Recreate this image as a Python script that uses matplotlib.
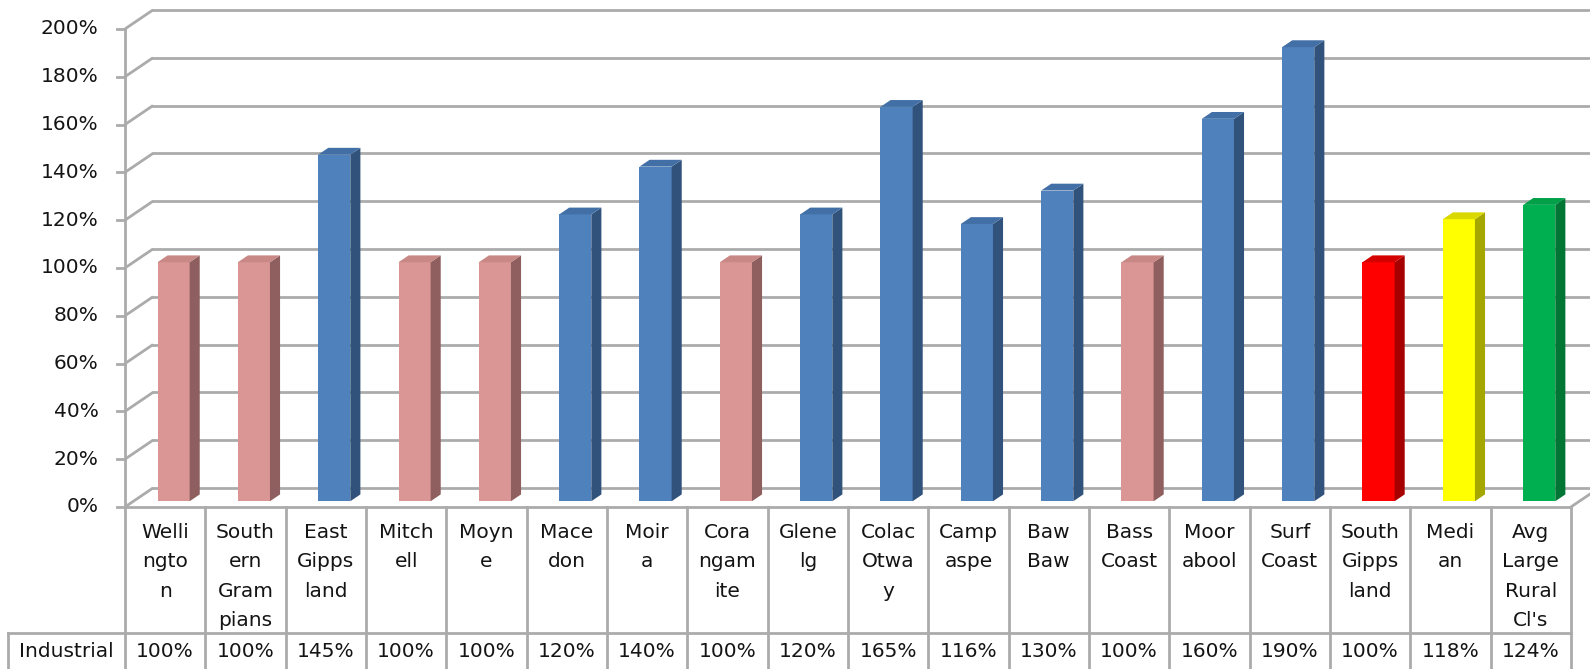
import matplotlib
matplotlib.use("Agg")
import matplotlib.pyplot as plt
from matplotlib.patches import Polygon

# data
councils = ["Welli\nngto\nn", "South\nern\nGram\npians", "East\nGipps\nland", "Mitch\nell",
            "Moyn\ne", "Mace\ndon", "Moir\na", "Cora\nngam\nite", "Glene\nlg",
            "Colac\nOtwa\ny", "Camp\naspe", "Baw\nBaw", "Bass\nCoast", "Moor\nabool",
            "Surf\nCoast", "South\nGipps\nland", "Medi\nan", "Avg\nLarge\nRural\nCl's"]
industrial = [1.00, 1.00, 1.45, 1.00, 1.00, 1.20, 1.40, 1.00, 1.20,
              1.65, 1.16, 1.30, 1.00, 1.60, 1.90, 1.00, 1.18, 1.24]
bar_kind = ["pink", "pink", "blue", "pink", "pink", "blue", "blue", "pink", "blue",
            "blue", "blue", "blue", "pink", "blue", "blue", "red", "yellow", "green"]
row_name = "Industrial"
yticks = [0, 0.2, 0.4, 0.6, 0.8, 1.0, 1.2, 1.4, 1.6, 1.8, 2.0]

# (front, side, top) colours
palette = {
    "pink": ("#D99694", "#8E5F5E", "#C88886"),
    "blue": ("#4F81BD", "#31527B", "#4270A6"),
    "red": ("#FF0000", "#A60000", "#D40000"),
    "yellow": ("#FFFF00", "#A6A600", "#D9D900"),
    "green": ("#00B050", "#007534", "#00A049"),
}

grid_col = "#ABABAB"
text_col = "#141414"
fs = 14.5

# 3d-ish depth of the plot box, in data units
DX, DY = 0.349, 0.0795
bar_w = 0.40
bar_d0, bar_d1 = 0.30, 0.66   # bar front / back as fraction of depth

n = len(councils)
fig = plt.figure(figsize=(15.9, 6.69), dpi=100)
ax = fig.add_axes([0, 0, 1, 1])
ax.set_xlim(-2.056, 17.737)
ax.set_ylim(-0.678, 2.121)
ax.axis("off")

left = -0.5
right = n - 0.5

# gridlines: side wall diagonal + back wall + tick marks
for v in yticks:
    ax.plot([left, left + DX], [v, v + DY], color=grid_col, lw=2, zorder=1,
            solid_capstyle="butt")
    ax.plot([left + DX, 20], [v + DY, v + DY], color=grid_col, lw=2, zorder=1)
    ax.plot([left - 0.1, left], [v, v], color=grid_col, lw=2, zorder=1)
    ax.text(left - 0.33, v, f"{v*100:.0f}%", ha="right", va="center",
            fontsize=fs, color=text_col)

# front axis + floor edges
ax.plot([left, left], [0, yticks[-1]], color=grid_col, lw=2, zorder=2)
ax.plot([left, right], [0, 0], color=grid_col, lw=2, zorder=2)
ax.plot([right, right + DX], [0, DY], color=grid_col, lw=2, zorder=2)

# bars
for i, (h, kind) in enumerate(zip(industrial, bar_kind)):
    front, side, top = palette[kind]
    ox, oy = bar_d0 * DX, bar_d0 * DY
    dd = (bar_d1 - bar_d0)
    x0 = i - bar_w / 2 + ox
    x1 = i + bar_w / 2 + ox
    y0 = oy
    y1 = oy + h
    ax.add_patch(Polygon([(x0, y0), (x1, y0), (x1, y1), (x0, y1)],
                         closed=True, fc=front, ec="none", zorder=3))
    ax.add_patch(Polygon([(x1, y0), (x1 + dd * DX, y0 + dd * DY),
                          (x1 + dd * DX, y1 + dd * DY), (x1, y1)],
                         closed=True, fc=side, ec="none", zorder=3))
    ax.add_patch(Polygon([(x0, y1), (x1, y1), (x1 + dd * DX, y1 + dd * DY),
                          (x0 + dd * DX, y1 + dd * DY)],
                         closed=True, fc=top, ec="none", zorder=3))

# data table
row_top = -0.527
bottom = -0.7
tab_left = -1.957
for k in range(n + 1):
    ax.plot([left + k, left + k], [0, bottom], color=grid_col, lw=2, zorder=2)
ax.plot([tab_left, tab_left], [row_top, bottom], color=grid_col, lw=2, zorder=2)
ax.plot([tab_left, right], [row_top, row_top], color=grid_col, lw=2, zorder=2)

for i, (name, h) in enumerate(zip(councils, industrial)):
    ax.text(i, -0.068, name, ha="center", va="top", fontsize=fs,
            color=text_col, linespacing=1.68)
    ax.text(i, -0.603, f"{h*100:.0f}%", ha="center", va="center",
            fontsize=fs, color=text_col)
ax.text((tab_left + left) / 2, -0.603, row_name, ha="center", va="center",
        fontsize=fs, color=text_col)

fig.savefig("out.png", dpi=100)
